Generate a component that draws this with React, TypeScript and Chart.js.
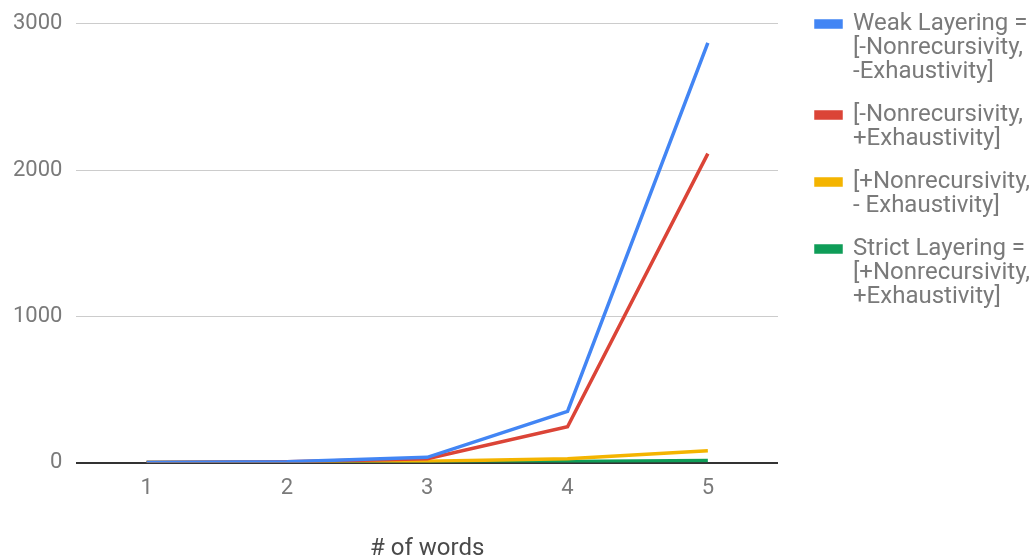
import React, { useEffect, useRef } from "react";
import { Chart, registerables } from "chart.js";

Chart.register(...registerables);

const categories = ["1", "2", "3", "4", "5"];
const weakLayering = [1, 6, 36, 350, 2870];
const nonrecPlusExh = [1, 5, 26, 245, 2113];
const plusNonrecMinusExh = [1, 3, 9, 27, 81];
const strictLayering = [1, 2, 4, 8, 14];
const yTicks = [0, 1000, 2000, 3000];

const seriesLabels = [
  ["Weak Layering =", "[-Nonrecursivity,", "-Exhaustivity]"],
  ["[-Nonrecursivity,", "+Exhaustivity]"],
  ["[+Nonrecursivity,", "- Exhaustivity]"],
  ["Strict Layering =", "[+Nonrecursivity,", "+Exhaustivity]"],
];
const seriesColors = ["#4285F4", "#DB4437", "#F4B400", "#0F9D58"];

const legendPlacement = {
  id: "legendPlacement",
  beforeLayout(chart: any) {
    const lg = chart.legend;
    if (lg && !lg.__patched) {
      lg.__patched = true;
      const origFit = lg.fit;
      lg.fit = function () {
        origFit.call(this);
        this.width = 253;
      };
    }
  },
  afterLayout(chart: any) {
    const lg = chart.legend;
    if (!lg) return;
    lg.left = 797;
    lg.right = 1031;
    lg.top = -7;
  },
};

export default function App() {
  const ref = useRef<HTMLCanvasElement | null>(null);
  useEffect(() => {
    if (!ref.current) return;
    const values = [weakLayering, nonrecPlusExh, plusNonrecMinusExh, strictLayering];
    const chart = new Chart(ref.current, {
      type: "line",
      data: {
        labels: categories,
        datasets: values.map((v, i) => ({
          label: seriesLabels[i] as any,
          data: v,
          borderColor: seriesColors[i],
          backgroundColor: seriesColors[i],
          borderWidth: 3.5,
          pointRadius: 0,
          tension: 0,
          fill: false,
        })),
      },
      plugins: [legendPlacement],
      options: {
        responsive: false,
        animation: false,
        layout: { padding: { left: -1, top: 2, right: 0, bottom: -6 } },
        plugins: {
          tooltip: { enabled: false },
          legend: {
            position: "right",
            align: "start",
            labels: {
              boxWidth: 25,
              boxHeight: 6,
              padding: 19,
              color: "#7a7a7a",
              font: { family: "Roboto", size: 24, lineHeight: 1 },
            },
          },
        },
        scales: {
          x: {
            offset: true,
            grid: { display: false },
            border: { display: false },
            ticks: { color: "#7a7a7a", font: { family: "Roboto", size: 22 }, padding: 5 },
            title: {
              display: true,
              text: "# of words",
              color: "#4a4a4a",
              font: { family: "Roboto", size: 24, lineHeight: 1 },
              padding: { top: 30, bottom: 0 },
            },
          },
          y: {
            min: 0,
            max: 3000,
            afterBuildTicks: (axis: any) => {
              axis.ticks = yTicks.map((v) => ({ value: v }));
            },
            border: { display: false },
            grid: {
              drawTicks: false,
              color: (ctx: any) => (ctx.tick && ctx.tick.value === 0 ? "#333333" : "#cccccc"),
              lineWidth: (ctx: any) => (ctx.tick && ctx.tick.value === 0 ? 2 : 1),
            },
            ticks: {
              color: "#7a7a7a",
              font: { family: "Roboto", size: 22, lineHeight: 0.9 },
              padding: 14,
              callback: (v: any) => String(v),
            },
          },
        },
      },
    });
    return () => chart.destroy();
  }, []);
  return (
    <div style={{ position: "fixed", left: 0, top: 0, width: 1031, height: 555, background: "#fff" }}>
      <canvas ref={ref} width={1031} height={555} />
    </div>
  );
}
